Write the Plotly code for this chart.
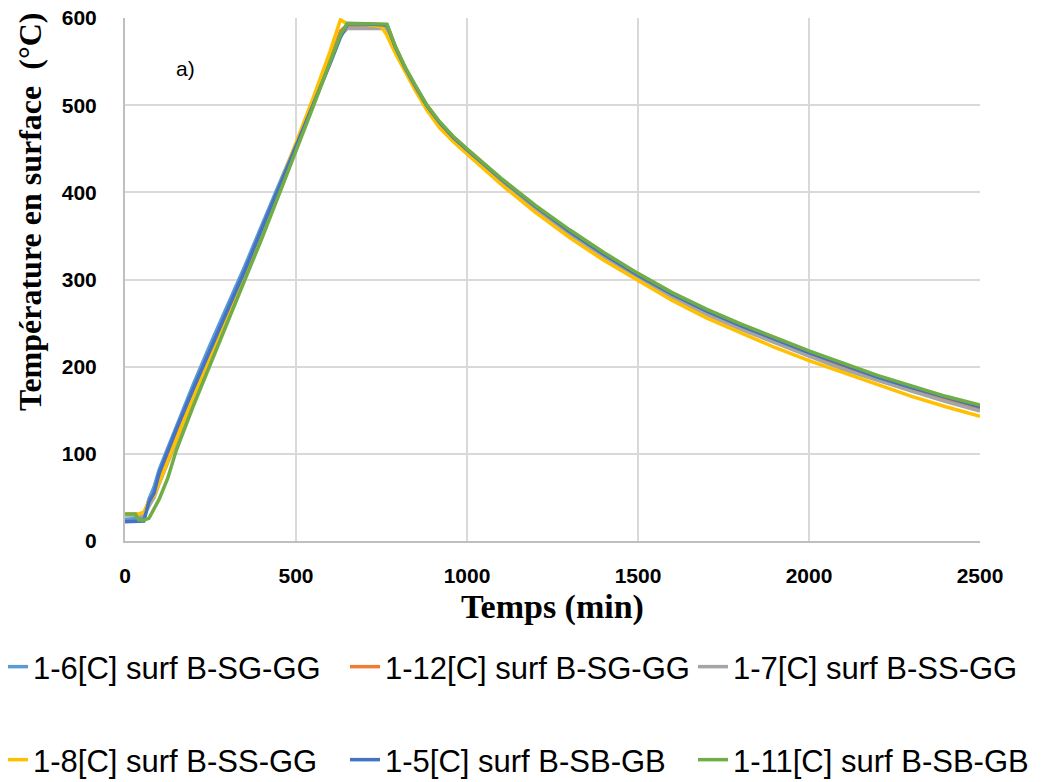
import plotly.graph_objects as go

# Heating phase times (min)
heat_t = [0, 30, 40, 55, 70, 85, 100, 125, 150, 200, 250, 300, 350, 400, 450, 500, 550, 600, 630, 650, 700, 750, 766]
# Cooling phase times (min)
cool_t = [790, 820, 850, 883, 920, 960, 1000, 1100, 1200, 1300, 1400, 1500, 1600, 1700, 1800, 1900, 2000, 2100, 2200, 2300, 2400, 2500]

names = ["1-6[C] surf B-SG-GG", "1-12[C] surf B-SG-GG", "1-7[C] surf B-SS-GG",
         "1-8[C] surf B-SS-GG", "1-5[C] surf B-SB-GB", "1-11[C] surf B-SB-GB"]
colors = ["#5B9BD5", "#ED7D31", "#A5A5A5", "#FFC000", "#4472C4", "#70AD47"]

s16_heat = [25, 25, 25, 26, 48, 62, 82, 107, 132, 180, 226, 270, 315, 362, 408, 455, 502, 550, 580, 592, 592, 592, 591]
s16_cool = [567, 542, 521, 499, 480, 463, 449, 414, 383, 355, 329, 305, 283, 264, 246, 230, 215, 201, 187, 175, 164, 153]

s112_heat = [30, 30, 30, 31, 44, 52, 70, 96, 122, 170, 216, 262, 308, 355, 403, 452, 502, 552, 585, 592, 592, 591, 588]
s112_cool = [566, 541, 520, 498, 479, 462, 447, 413, 382, 353, 327, 303, 281, 261, 244, 228, 213, 199, 185, 173, 162, 151]

s17_heat = [30, 30, 29, 29, 40, 50, 66, 90, 114, 162, 210, 257, 305, 354, 403, 452, 502, 552, 580, 588, 588, 589, 588]
s17_cool = [565, 540, 519, 497, 478, 461, 447, 412, 381, 352, 326, 302, 280, 260, 243, 227, 212, 197, 184, 172, 160, 149]

s18_heat = [31, 31, 31, 33, 46, 52, 67, 92, 117, 166, 213, 260, 307, 355, 405, 456, 508, 562, 598, 593, 593, 590, 580]
s18_cool = [560, 537, 516, 494, 474, 458, 444, 409, 377, 348, 322, 299, 276, 256, 239, 222, 207, 193, 179, 166, 154, 143]

s15_heat = [22, 22, 22, 23, 45, 55, 78, 103, 128, 175, 220, 265, 310, 358, 405, 452, 500, 548, 578, 593, 593, 593, 592]
s15_cool = [567, 542, 521, 499, 480, 463, 449, 415, 384, 355, 329, 305, 283, 264, 247, 231, 216, 202, 188, 176, 165, 154]

s111_heat = [31, 31, 24, 24, 26, 38, 48, 72, 104, 155, 203, 250, 298, 347, 397, 447, 498, 550, 581, 594, 594, 594, 593]
s111_cool = [568, 543, 522, 500, 481, 464, 450, 416, 385, 357, 331, 307, 285, 266, 249, 233, 218, 204, 190, 178, 166, 156]

series = [(s16_heat, s16_cool), (s112_heat, s112_cool), (s17_heat, s17_cool),
          (s18_heat, s18_cool), (s15_heat, s15_cool), (s111_heat, s111_cool)]

W, H = 1042, 782
OFF = 8  # page body margin of the html output
# plot area in page pixels: x 125..980, y 18..541
ML, MT = 125 - OFF, 18 - OFF
MR, MB = W - (980 - OFF), H - (541 - OFF)
PW, PH = W - ML - MR, H - MT - MB


def px_x(page_x):
    return (page_x - OFF - ML) / PW


def px_y(page_y):
    return 1 - (page_y - OFF - MT) / PH


legend_ids = ["legend", "legend2", "legend3", "legend4", "legend5", "legend6"]
# page x where the legend text begins, and page y of the row centre
leg_px = [(33, 667), (385, 667), (733, 667), (33, 760), (385, 760), (733, 760)]

fig = go.Figure()
for (h, c), n, col, lid in zip(series, names, colors, legend_ids):
    fig.add_trace(go.Scatter(
        x=heat_t + cool_t, y=h + c, mode="lines", name=n,
        line=dict(color=col, width=3.5), legend=lid,
    ))

legend_layouts = {}
for lid, (tx, ty) in zip(legend_ids, leg_px):
    legend_layouts[lid] = dict(
        orientation="h", xref="paper", yref="paper",
        x=px_x(tx - 40), y=px_y(ty), xanchor="left", yanchor="middle",
        font=dict(family="Liberation Sans", size=31, color="#000000"),
        bgcolor="rgba(0,0,0,0)", itemwidth=30,
    )

tickfont = dict(family="Liberation Sans", size=21, color="#000000", weight="bold")

fig.update_layout(
    width=W, height=H,
    margin=dict(l=ML, r=MR, t=MT, b=MB, autoexpand=False),
    paper_bgcolor="white", plot_bgcolor="white",
    xaxis=dict(
        range=[0, 2500], tickvals=[0, 500, 1000, 1500, 2000, 2500],
        showgrid=True, gridcolor="#D9D9D9", gridwidth=2,
        showline=True, linecolor="#BFBFBF", linewidth=2,
        zeroline=False, ticks="", tickfont=tickfont, automargin=False,
        ticklabelstandoff=15, ticklabeloverflow="allow",
    ),
    yaxis=dict(
        range=[0, 600], tickvals=[0, 100, 200, 300, 400, 500, 600],
        showgrid=True, gridcolor="#D9D9D9", gridwidth=2,
        showline=True, linecolor="#BFBFBF", linewidth=2,
        zeroline=False, ticks="", ticklabelstandoff=22,
        tickfont=tickfont, automargin=False, ticklabeloverflow="allow",
    ),
    annotations=[
        dict(text="a)", x=px_x(185), y=px_y(68), xref="paper", yref="paper",
             xanchor="center", yanchor="middle",
             showarrow=False, font=dict(family="Liberation Sans", size=21, color="#000000")),
        dict(text="<b>Temps (min)</b>", x=px_x(552), y=px_y(607),
             xref="paper", yref="paper", showarrow=False, xanchor="center", yanchor="middle",
             font=dict(family="Liberation Serif", size=34, color="#000000")),
        dict(text="<b>Température en surface  (°C)</b>", x=px_x(30), y=px_y(212),
             xref="paper", yref="paper", showarrow=False, textangle=-90,
             xanchor="center", yanchor="middle",
             font=dict(family="Liberation Serif", size=32, color="#000000")),
    ],
    showlegend=True,
    **legend_layouts,
)

fig.write_html("out.html")
